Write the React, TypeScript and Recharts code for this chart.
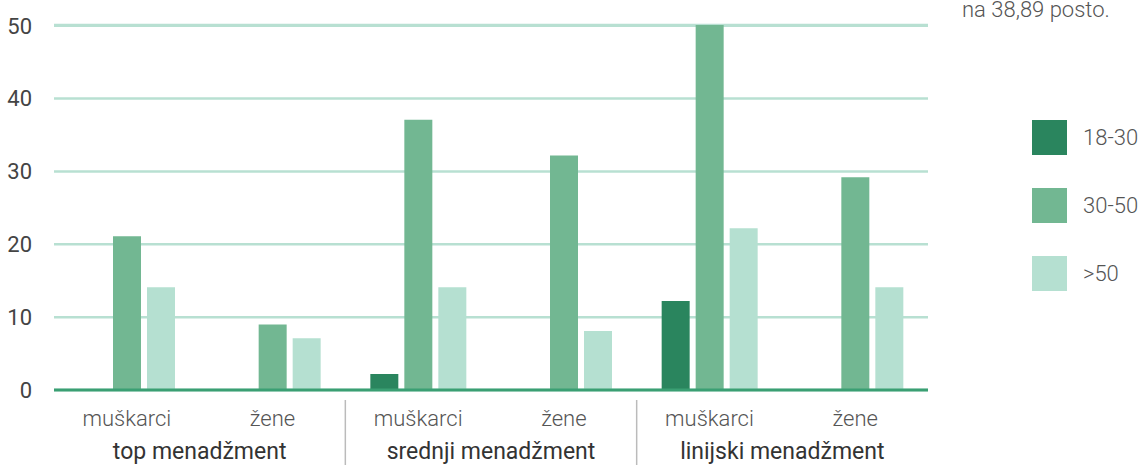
import React from 'react';
import { BarChart, Bar, XAxis, YAxis, CartesianGrid } from 'recharts';

const categories = ['muškarci', 'žene', 'muškarci', 'žene', 'muškarci', 'žene'];
const groups = ['top menadžment', 'top menadžment', 'srednji menadžment', 'srednji menadžment', 'linijski menadžment', 'linijski menadžment'];
const age18to30 = [0, 0, 2.2, 0, 12.2, 0];
const age30to50 = [21.1, 9.0, 37.1, 32.2, 50.1, 29.2];
const age50plus = [14.1, 7.1, 14.1, 8.1, 22.2, 14.1];
const yTicks = [0, 10, 20, 30, 40, 50];

const SERIES = [
  { key: 'a', name: '18-30', color: '#2a855e' },
  { key: 'b', name: '30-50', color: '#72b792' },
  { key: 'c', name: '>50', color: '#b5e0d1' },
];

const data = categories.map((c, i) => ({
  label: c,
  group: groups[i],
  a: age18to30[i],
  b: age30to50[i],
  c: age50plus[i],
}));

const FONT = 'Roboto, "Noto Sans", sans-serif';

// sub label under each bar group, group label + separator under every second one
const TwoLevelTick = (props: any) => {
  const { x, y, payload } = props;
  const index = props.index ?? payload.index;
  const half = payload.offset || 0;
  const isLastInGroup = index % 2 === 1;
  return (
    <g>
      <text x={x} y={y + 36} textAnchor="middle" fontFamily={FONT} fontSize={22} fontWeight={300} fill="#555">
        {payload.value}
      </text>
      {isLastInGroup && (
        <text x={x - half} y={y + 69} textAnchor="middle" fontFamily={FONT} fontSize={23} fontWeight={400} fill="#333">
          {groups[index]}
        </text>
      )}
      {isLastInGroup && index < categories.length - 1 && (
        <line x1={x + half} x2={x + half} y1={y + 10} y2={y + 80} stroke="#bbb" strokeWidth={1.5} />
      )}
    </g>
  );
};

const LegendBox = () => (
  <div style={{ position: 'absolute', left: 1032, top: 120, fontFamily: FONT }}>
    {SERIES.map((s) => (
      <div key={s.key} style={{ display: 'flex', alignItems: 'center', height: 35, marginBottom: 33 }}>
        <span style={{ width: 35, height: 35, background: s.color, display: 'inline-block' }} />
        <span style={{ marginLeft: 16, fontSize: 22, fontWeight: 300, color: '#555', whiteSpace: 'nowrap' }}>{s.name}</span>
      </div>
    ))}
  </div>
);

export default function App() {
  return (
    <div style={{ position: 'absolute', left: 0, top: 0, width: 1139, height: 465, overflow: 'hidden', background: '#fff' }}>
      <div style={{ position: 'absolute', left: 962, top: -1.5, fontFamily: FONT, fontSize: 22, lineHeight: '22px', fontWeight: 300, color: '#555', whiteSpace: 'nowrap' }}>
        na 38,89 posto.
      </div>
      <BarChart
        width={1139}
        height={465}
        data={data}
        margin={{ top: 25, right: 211, left: 0, bottom: 0 }}
        barSize={28}
        barGap={6}
      >
        <CartesianGrid horizontal vertical={false} stroke="#b8e0d2" strokeWidth={2.5} />
        <YAxis
          domain={[0, 50]}
          ticks={yTicks}
          width={54}
          axisLine={false}
          tickLine={false}
          tickSize={0}
          tickMargin={22}
          tick={{ fontFamily: FONT, fontSize: 22, fill: '#444' }}
        />
        <XAxis
          dataKey="label"
          height={75}
          interval={0}
          tickLine={false}
          tickSize={0}
          tickMargin={0}
          axisLine={{ stroke: '#3a9f73', strokeWidth: 3 }}
          tick={<TwoLevelTick />}
        />
        {SERIES.map((s) => (
          <Bar key={s.key} dataKey={s.key} name={s.name} fill={s.color} isAnimationActive={false} />
        ))}
      </BarChart>
      <LegendBox />
    </div>
  );
}
